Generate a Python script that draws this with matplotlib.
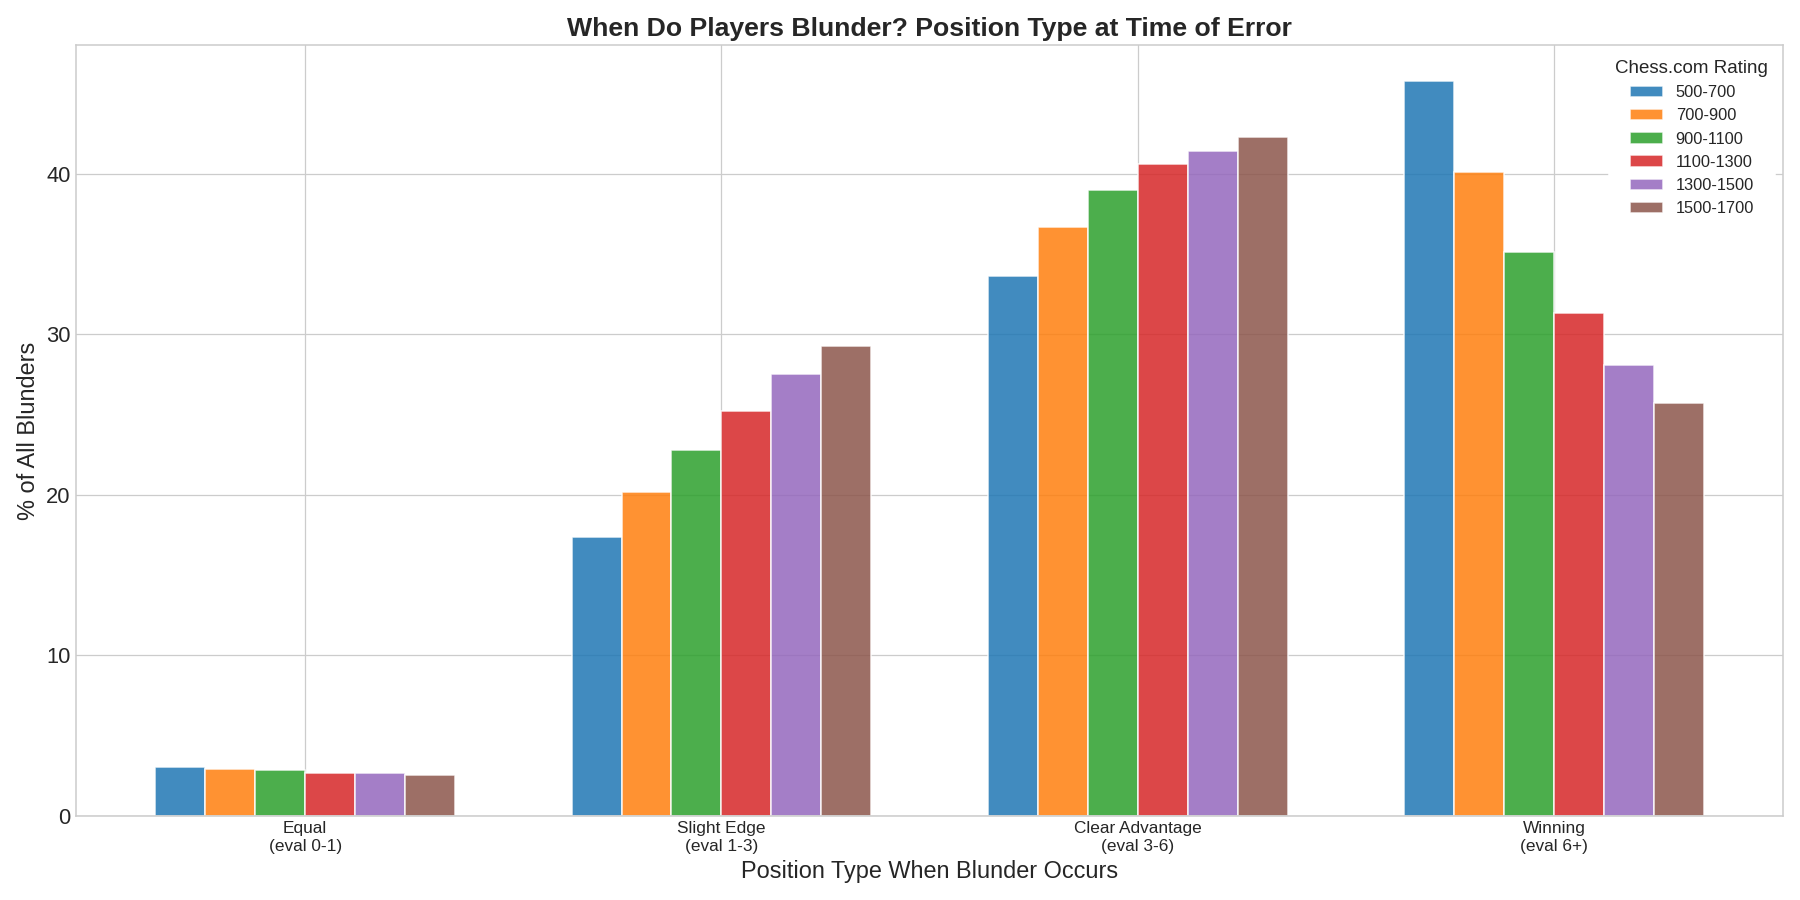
import matplotlib
matplotlib.use("Agg")
import matplotlib.pyplot as plt
import numpy as np

categories = ["Equal\n(eval 0-1)", "Slight Edge\n(eval 1-3)", "Clear Advantage\n(eval 3-6)", "Winning\n(eval 6+)"]
ratings = ["500-700", "700-900", "900-1100", "1100-1300", "1300-1500", "1500-1700"]
values = {
    "500-700":   [3.06, 17.4, 33.6, 45.8],
    "700-900":   [2.9, 20.2, 36.7, 40.1],
    "900-1100":  [2.85, 22.8, 39.0, 35.1],
    "1100-1300": [2.7, 25.2, 40.6, 31.3],
    "1300-1500": [2.65, 27.5, 41.4, 28.1],
    "1500-1700": [2.55, 29.3, 42.3, 25.7],
}
colors = ["#1f77b4", "#ff7f0e", "#2ca02c", "#d62728", "#9467bd", "#8c564b"]

plt.style.use("seaborn-v0_8-whitegrid")
fig, ax = plt.subplots(figsize=(16, 8), dpi=112.5)
x = np.arange(len(categories))
w = 0.12
for i, r in enumerate(ratings):
    ax.bar(x + (i - 2.5) * w, values[r], w, color=colors[i], alpha=0.85,
           edgecolor="white", linewidth=1, label=r)
ax.set_xticks(x)
ax.set_xticklabels(categories, fontsize=11)
ax.tick_params(axis="y", labelsize=14)
ax.set_xlim(-0.55, 3.55)
ax.set_ylim(0, 48)
ax.set_yticks([0, 10, 20, 30, 40])
ax.set_xlabel("Position Type When Blunder Occurs", fontsize=15)
ax.set_ylabel("% of All Blunders", fontsize=15)
ax.set_title("When Do Players Blunder? Position Type at Time of Error", fontsize=17, fontweight="bold")
for s in ax.spines.values():
    s.set_visible(True)
    s.set_color("#cccccc")
leg = ax.legend(title="Chess.com Rating", loc="upper right", fontsize=10.5, title_fontsize=12,
                frameon=True, facecolor="white", edgecolor="white", framealpha=1)
fig.tight_layout()
fig.savefig("out.png")
